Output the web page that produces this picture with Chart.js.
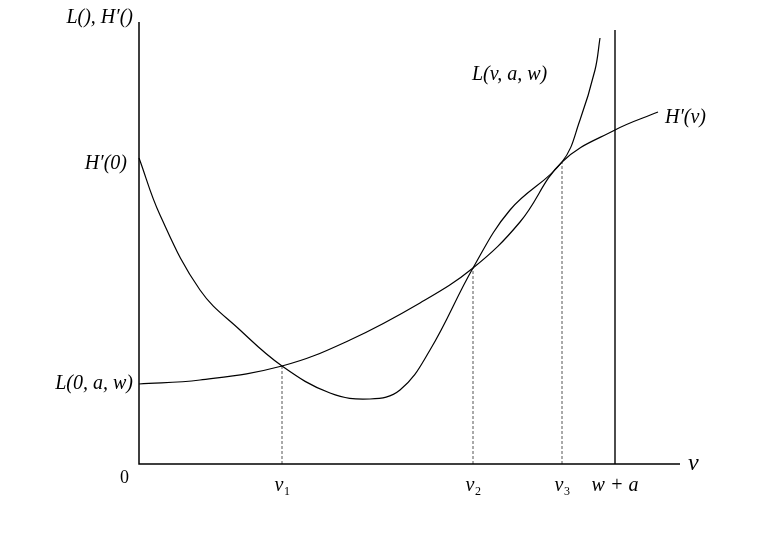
<!DOCTYPE html>
<html lang="en">
<head>
<meta charset="UTF-8">
<title>L and H' curves</title>
<script src="https://cdn.jsdelivr.net/npm/chart.js@4.4.0/dist/chart.umd.min.js"></script>
<style>
  body { margin: 0; background: #fff; }
  #wrap { width: 781px; height: 546px; }
</style>
</head>
<body>
<div id="wrap"><canvas id="c"></canvas></div>
<script>
// x: distance along v axis, y: height above v axis (schematic units)
const hCurve = [[0,80],[61,84],[143,98],[211,124],[281,161],[334,196],[381,242],[423,302],[476,334],[519,352]];
const lCurve = [[0,306],[21,249],[61,174],[101,134],[143,98],[191,71],[231,65],[261,74],[291,114],[334,196],[371,254],[423,302],[441,344],[456,394],[461,426]];
const crossings = [[143,98,'1'],[334,196,'2'],[423,302,'3']];
const wPlusA = 476;
const xMax = 541, yMax = 442;

const pts = a => a.map(p => ({x: p[0], y: p[1]}));
const serif = 'italic 20px "Liberation Serif", "DejaVu Serif", serif';

const datasets = [
  {data: pts(hCurve), borderColor: '#000', borderWidth: 1.2, tension: 0.4, pointRadius: 0, fill: false},
  {data: pts(lCurve), borderColor: '#000', borderWidth: 1.2, tension: 0.4, pointRadius: 0, fill: false},
  {data: [{x: wPlusA, y: 0}, {x: wPlusA, y: 434}], borderColor: '#000', borderWidth: 1.4, pointRadius: 0}
];
crossings.forEach(c => datasets.push({
  data: [{x: c[0], y: 0}, {x: c[0], y: c[1]}],
  borderColor: '#555', borderWidth: 1, borderDash: [3, 2], pointRadius: 0
}));

const labels = {
  id: 'labels',
  afterDraw(chart) {
    const g = chart.ctx, xs = chart.scales.x, ys = chart.scales.y;
    const a = chart.chartArea;
    g.save();
    g.strokeStyle = '#000'; g.lineWidth = 1.5;
    g.beginPath();
    g.moveTo(a.left, a.top); g.lineTo(a.left, a.bottom); g.lineTo(a.right, a.bottom);
    g.stroke();
    g.fillStyle = '#000';
    g.font = serif; g.textBaseline = 'middle';
    g.textAlign = 'right';
    g.fillText('L(), H\u2032()', a.left - 6, a.top - 4);
    g.fillText('H\u2032(0)', a.left - 12, ys.getPixelForValue(lCurve[0][1]) + 6);
    g.fillText('L(0, a, w)', a.left - 6, ys.getPixelForValue(hCurve[0][1]));
    g.font = '18px "Liberation Serif", serif';
    g.fillText('0', a.left - 10, a.bottom + 14);
    g.textAlign = 'left';
    g.font = serif;
    g.fillText('L(v, a, w)', 472, 75);
    g.fillText('H\u2032(v)', 665, 118);
    g.font = 'italic 24px "Liberation Serif", serif';
    g.fillText('v', 688, a.bottom);
    g.textAlign = 'center';
    g.font = serif;
    crossings.forEach(c => {
      const px = xs.getPixelForValue(c[0]);
      g.font = serif;
      g.fillText('v', px - 3, a.bottom + 22);
      g.font = '12px "Liberation Serif", serif';
      g.fillText(c[2], px + 5, a.bottom + 28);
    });
    g.font = serif;
    g.fillText('w + a', xs.getPixelForValue(wPlusA), a.bottom + 22);
    g.restore();
  }
};

new Chart(document.getElementById('c'), {
  type: 'line',
  data: {datasets},
  options: {
    responsive: true, maintainAspectRatio: false, animation: false,
    layout: {padding: {left: 139, right: 101, top: 22, bottom: 82}},
    clip: false,
    plugins: {legend: {display: false}, tooltip: {enabled: false}},
    scales: {
      x: {type: 'linear', min: 0, max: xMax, display: false},
      y: {min: 0, max: yMax, display: false}
    }
  },
  plugins: [labels]
});
</script>
</body>
</html>
